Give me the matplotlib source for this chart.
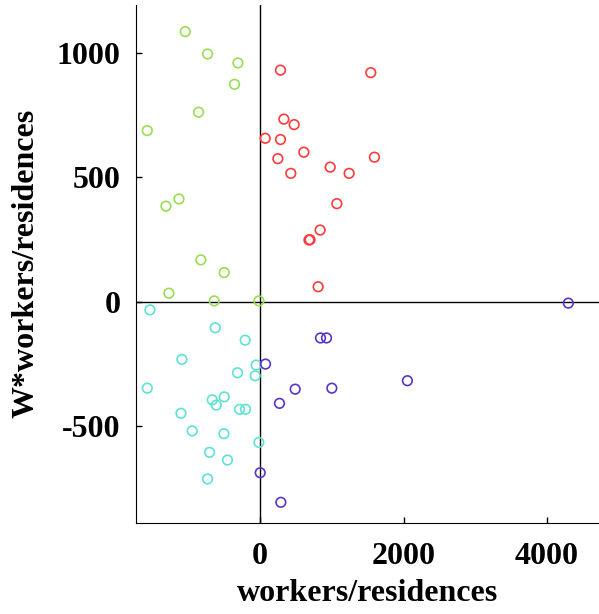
import matplotlib
matplotlib.use("Agg")
import matplotlib.pyplot as plt

# Quadrant groups: x = workers/residences, y = W*workers/residences
green_x = [-1045, -734, -311, -358, -859, -1575, -1314, -1133, -827, -502, -1273, -641, -18]
green_y = [1086, 996, 960, 874, 762, 688, 384, 413, 168, 117, 34, 3, 3]

red_x = [283, 1542, 330, 474, 70, 283, 246, 609, 1593, 427, 976, 1240, 1069, 836, 680, 695, 808]
red_y = [931, 921, 734, 712, 657, 652, 575, 601, 581, 516, 541, 516, 394, 288, 248, 249, 60]

cyan_x = [-1538, -627, -209, -1092, -56, -316, -70, -1575, -669, -613, -502, -288, -205,
          -1105, -948, -506, -18, -706, -456, -734]
cyan_y = [-33, -105, -155, -232, -255, -286, -298, -348, -395, -416, -383, -433, -433,
          -449, -520, -531, -566, -606, -637, -713]

purple_x = [74, 488, 269, 0, 288, 4297, 841, 925, 999, 2053]
purple_y = [-251, -352, -409, -688, -807, -6, -146, -146, -348, -318]

x_ticks = [0, 2000, 4000]
y_ticks = [-500, 0, 500, 1000]

plt.rcParams['font.family'] = ['Liberation Serif', 'DejaVu Serif']
plt.rcParams['font.weight'] = 'bold'
plt.rcParams['axes.unicode_minus'] = False

fig = plt.figure(figsize=(5.99, 6.14), dpi=100)
ax = fig.add_axes([136 / 599, 1 - 522.7 / 614, 1 - 136 / 599, (522.7 - 5) / 614])

groups = [
    (green_x, green_y, '#99dd55'),
    (red_x, red_y, '#ff3b3b'),
    (cyan_x, cyan_y, '#5ee3d3'),
    (purple_x, purple_y, '#5a35cc'),
]
for xs, ys, c in groups:
    ax.scatter(xs, ys, s=48, facecolors='none', edgecolors=c, linewidths=1.2, zorder=3)

# reference lines through the origin
ax.axhline(0, color='black', lw=1, zorder=1)
ax.axvline(0, color='black', lw=1, zorder=1)

ax.set_xlim(-1732, 4725)
ax.set_ylim(-889, 1193)
ax.set_xticks(x_ticks)
ax.set_yticks(y_ticks)
ax.spines['top'].set_visible(False)
ax.spines['right'].set_visible(False)
ax.tick_params(direction='in', length=4, width=1, labelsize=23)
ax.tick_params(axis='y', pad=11)
ax.tick_params(axis='x', pad=14)

ax.set_xlabel('workers/residences', fontsize=23, fontweight='bold', labelpad=6)
ax.set_ylabel('W*workers/residences', fontsize=23, fontweight='bold', labelpad=12)

fig.savefig('out.png', dpi=100)
